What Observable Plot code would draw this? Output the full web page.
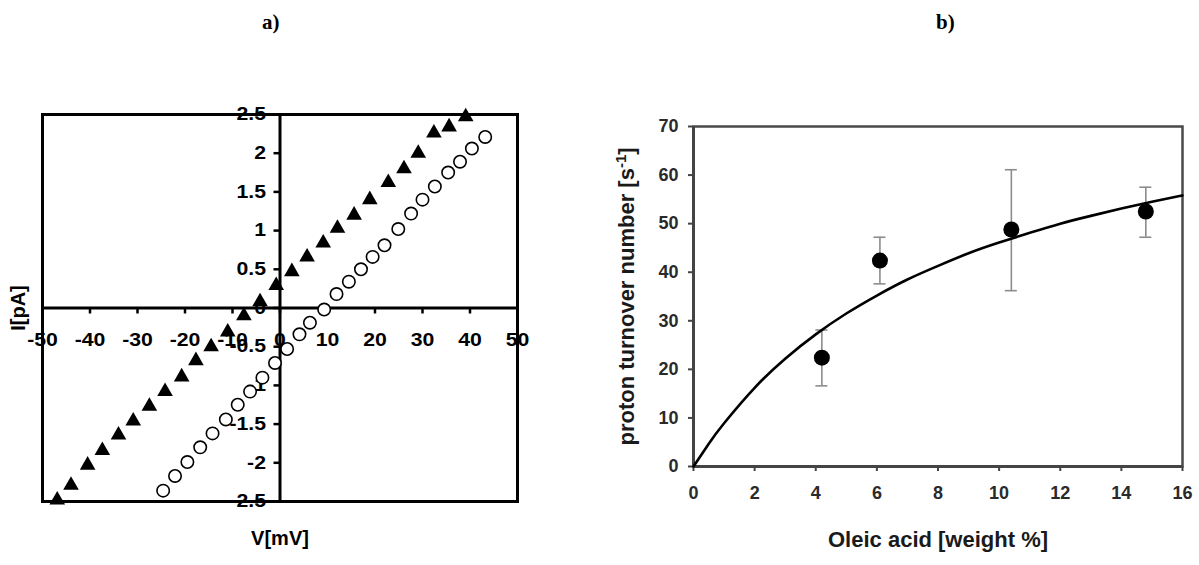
<!DOCTYPE html>
<html><head><meta charset="utf-8">
<script src="https://cdn.jsdelivr.net/npm/d3@7"></script>
<script src="https://cdn.jsdelivr.net/npm/@observablehq/plot@0.6"></script>
<style>
html,body{margin:0;padding:0;background:#fff}
body{width:1199px;height:565px;position:relative;overflow:hidden;font-family:"Liberation Sans",Arial,sans-serif}
.ptitle{position:absolute;top:10px;font-family:"Liberation Serif","Times New Roman",serif;font-weight:bold;font-size:21px;line-height:24px;color:#000}
#a{position:absolute;left:0;top:60px}
#b{position:absolute;left:560px;top:60px}
</style></head><body>
<div class="ptitle" style="left:262px">a)</div>
<div class="ptitle" style="left:936px">b)</div>
<div id="a"></div><div id="b"></div>
<script>
// ---- Panel a) : I-V curves ----
const vTicks = [-50, -40, -30, -20, -10, 0, 10, 20, 30, 40, 50];
const iTicks = [-2.5, -2, -1.5, -1, -0.5, 0, 0.5, 1, 1.5, 2, 2.5];
const triV = [-46.9, -44.0, -40.5, -37.4, -34.0, -30.9, -27.5, -24.2, -20.7, -17.7, -14.5, -11.0, -7.6, -4.2, -0.8, 2.5, 5.7, 9.1, 12.1, 15.6, 18.9, 22.8, 26.1, 29.1, 32.4, 35.6, 39.1];
const triI = [-2.48, -2.29, -2.03, -1.84, -1.64, -1.46, -1.27, -1.08, -0.89, -0.68, -0.50, -0.31, -0.10, 0.08, 0.29, 0.47, 0.66, 0.84, 1.03, 1.20, 1.40, 1.62, 1.80, 2.00, 2.26, 2.34, 2.47];
const circV = [-24.6, -22.1, -19.5, -16.8, -14.2, -11.4, -8.9, -6.3, -3.7, -1.05, 1.5, 4.1, 6.3, 9.3, 11.9, 14.5, 17.05, 19.5, 22.0, 24.9, 27.6, 30.0, 32.6, 35.4, 37.9, 40.4, 43.2];
const circI = [-2.36, -2.17, -1.99, -1.80, -1.62, -1.44, -1.25, -1.08, -0.90, -0.71, -0.53, -0.34, -0.19, -0.02, 0.18, 0.34, 0.50, 0.66, 0.81, 1.02, 1.22, 1.40, 1.57, 1.75, 1.89, 2.06, 2.21];

// ---- Panel b) : proton turnover ----
const oleicTicks = [0, 2, 4, 6, 8, 10, 12, 14, 16];
const turnTicks = [0, 10, 20, 30, 40, 50, 60, 70];
const oleic = [4.2, 6.1, 10.4, 14.8];
const turnover = [22.4, 42.4, 48.8, 52.5];
const errLow = [16.6, 37.6, 36.2, 47.2];
const errHigh = [28.1, 47.2, 61.1, 57.5];
const fitX = [0, 0.5, 1, 2, 3, 4, 5, 6, 7, 8, 9, 10, 11, 12, 13, 14, 15, 16];
const fitY = [0, 4.7, 8.9, 16.2, 22.2, 27.2, 31.5, 35.2, 38.5, 41.3, 43.9, 46.1, 48.1, 50.0, 51.6, 53.1, 54.5, 55.8];

const tri = triV.map((v, i) => ({v, i: triI[i]}));
const circ = circV.map((v, i) => ({v, i: circI[i]}));
const pts = oleic.map((x, k) => ({x, y: turnover[k], lo: errLow[k], hi: errHigh[k]}));
const fit = fitX.map((x, k) => ({x, y: fitY[k]}));
const fmt = d => String(d);
const FONT = "Liberation Sans, Arial, Helvetica, sans-serif";

const plotA = Plot.plot({
  width: 560, height: 505,
  marginLeft: 42, marginRight: 43, marginTop: 54, marginBottom: 64,
  x: {domain: [-50, 50], axis: null},
  y: {domain: [-2.5, 2.5], axis: null},
  style: {fontFamily: FONT, fontSize: "18px", fontWeight: "bold", color: "#000", background: "transparent", overflow: "visible"},
  marks: [
    Plot.text(vTicks, {x: d => d, y: 0, dy: 32, text: fmt, fontSize: 18, fontWeight: "bold", fill: "#000", lineAnchor: "middle", className: "tick-label"}),
    Plot.text(iTicks, {x: 0, y: d => d, dx: -14, textAnchor: "end", text: fmt, fontSize: 18, fontWeight: "bold", fill: "#000", lineAnchor: "middle", className: "tick-label"}),
    Plot.frame({stroke: "#000", strokeWidth: 3}),
    Plot.ruleX([0], {stroke: "#000", strokeWidth: 3}),
    Plot.ruleY([0], {stroke: "#000", strokeWidth: 3}),
    Plot.ruleX(vTicks, {x: d => d, y1: 0, y2: 0, insetBottom: -6, stroke: "#000", strokeWidth: 2.5}),
    Plot.ruleY(iTicks, {y: d => d, x1: 0, x2: 0, insetLeft: -6, stroke: "#000", strokeWidth: 2.5}),
    Plot.dot(circ, {x: "v", y: "i", symbol: "circle", r: 6.2, fill: "#fff", stroke: "#000", strokeWidth: 1.6}),
    Plot.dot(tri, {x: "v", y: "i", symbol: "triangle", r: 5.8, fill: "#000", stroke: "none"}),
    Plot.text(["I[pA]"], {frameAnchor: "left", textAnchor: "middle", lineAnchor: "middle", dx: -24, rotate: -90, text: d => d, fontSize: 20, fontWeight: "bold", fill: "#000"}),
    Plot.text(["V[mV]"], {frameAnchor: "bottom", textAnchor: "middle", lineAnchor: "middle", dy: 37, text: d => d, fontSize: 20, fontWeight: "bold", fill: "#000"})
  ]
});
document.getElementById("a").append(plotA);
// the original's tick numerals are drawn horizontally wide
plotA.querySelectorAll("g.tick-label text, .tick-label text").forEach(t => {
  const tr = t.getAttribute("transform") || "";
  if (!/scale/.test(tr)) t.setAttribute("transform", tr + " scale(1.18,1)");
});

const plotB = Plot.plot({
  width: 639, height: 505,
  marginLeft: 133, marginRight: 17, marginTop: 66, marginBottom: 99,
  x: {domain: [0, 16], axis: null},
  y: {domain: [0, 70], axis: null},
  style: {fontFamily: FONT, fontSize: "18px", fontWeight: "bold", color: "#222", background: "transparent", overflow: "visible"},
  marks: [
    Plot.frame({stroke: "#4a4a4a", strokeWidth: 2.5}),
    Plot.ruleX([0], {stroke: "#444", strokeWidth: 3}),
    Plot.ruleY([0], {stroke: "#444", strokeWidth: 3}),
    Plot.ruleX(oleicTicks, {x: d => d, y1: 0, y2: 0, insetBottom: -5, stroke: "#444", strokeWidth: 2}),
    Plot.ruleY(turnTicks, {y: d => d, x1: 0, x2: 0, insetLeft: -5, stroke: "#444", strokeWidth: 2}),
    Plot.text(oleicTicks, {x: d => d, y: 0, dy: 27, text: fmt, fontSize: 18, fontWeight: "bold", fill: "#2a2a2a", lineAnchor: "middle"}),
    Plot.text(turnTicks, {x: 0, y: d => d, dx: -15, textAnchor: "end", text: fmt, fontSize: 18, fontWeight: "bold", fill: "#2a2a2a", lineAnchor: "middle"}),
    Plot.ruleX(pts, {x: "x", y1: "lo", y2: "hi", stroke: "#8c8c8c", strokeWidth: 1.6}),
    Plot.ruleY(pts, {y: "lo", x1: "x", x2: "x", insetLeft: -6, insetRight: -6, stroke: "#8c8c8c", strokeWidth: 1.6}),
    Plot.ruleY(pts, {y: "hi", x1: "x", x2: "x", insetLeft: -6, insetRight: -6, stroke: "#8c8c8c", strokeWidth: 1.6}),
    Plot.line(fit, {x: "x", y: "y", curve: "natural", stroke: "#000", strokeWidth: 2.6}),
    Plot.dot(pts, {x: "x", y: "y", r: 8, fill: "#000", stroke: "none"}),
    Plot.text(["proton turnover number [s⁻¹]"], {frameAnchor: "left", textAnchor: "middle", lineAnchor: "middle", dx: -67, rotate: -90, text: d => d, fontSize: 22, fontWeight: "bold", fill: "#1a1a1a"}),
    Plot.text(["Oleic acid [weight %]"], {frameAnchor: "bottom", textAnchor: "middle", lineAnchor: "middle", dy: 73, text: d => d, fontSize: 22, fontWeight: "bold", fill: "#1a1a1a"})
  ]
});
document.getElementById("b").append(plotB);

// render the unit's exponent as a real superscript
plotB.querySelectorAll("text").forEach(t => {
  if (t.textContent === "proton turnover number [s⁻¹]") {
    const ns = "http://www.w3.org/2000/svg";
    t.textContent = "";
    const a = document.createElementNS(ns, "tspan"); a.textContent = "proton turnover number [s";
    const s = document.createElementNS(ns, "tspan"); s.textContent = "-1";
    s.setAttribute("font-size", "15"); s.setAttribute("dy", "-8");
    const c = document.createElementNS(ns, "tspan"); c.textContent = "]"; c.setAttribute("dy", "8");
    t.append(a, s, c);
  }
});
</script>
</body></html>
